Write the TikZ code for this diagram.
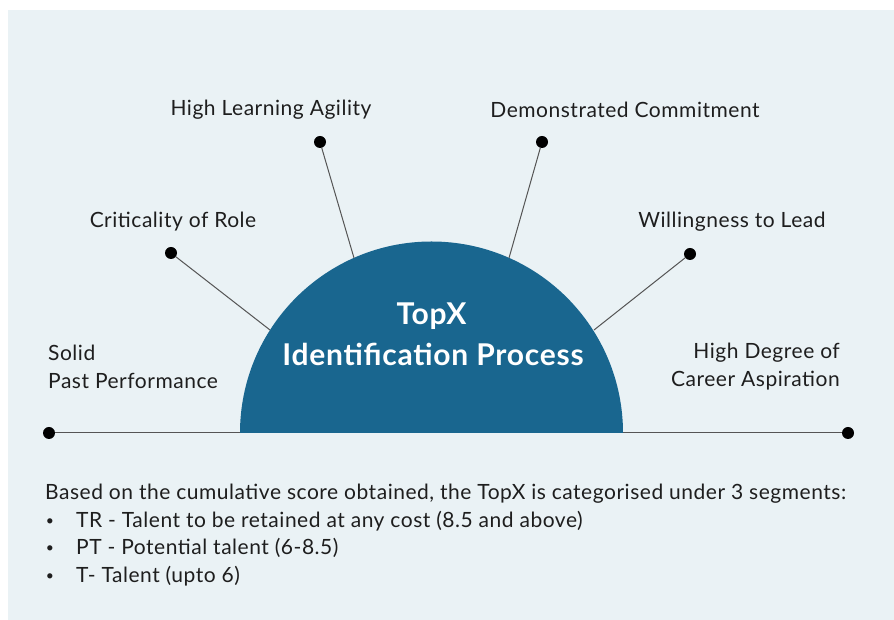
\documentclass[tikz,border=0pt]{standalone}
\usepackage{fontspec}
\setmainfont{Lato}[LetterSpace=2.5]
\definecolor{bgc}{HTML}{EAF2F5}
\definecolor{blu}{HTML}{19668F}
\definecolor{txt}{HTML}{1E1E1E}
\definecolor{spoke}{HTML}{555555}
\begin{document}
\begin{tikzpicture}[x=1pt,y=1pt,
  lbl/.style={inner sep=0pt, text=txt, font=\fontsize{21}{25}\selectfont},
  dotn/.style={circle, fill=black, inner sep=0pt, minimum size=12pt},
  spk/.style={draw=spoke, line width=1pt},
  ttl/.style={inner sep=0pt, text=white, font=\fontsize{30}{35}\selectfont\bfseries}]
\useasboundingbox (0,0) rectangle (894,620);
\fill[bgc] (8,0) rectangle (894,610);
% base line
\node[dotn] (dL) at (49,187) {};
\node[dotn] (dR) at (848,187) {};
\draw[spk] (dL) -- (dR);
% semicircle
\coordinate (c) at (431.5,187);
\fill[blu] (240,187) arc[start angle=180, end angle=0, radius=191.5pt] -- cycle;
\node[ttl] (t1) at (431.5,304) {TopX};
\node[ttl] (t2) at (433,266) {Identification Process};
% spokes
\node[dotn] (d1) at (171,367) {};
\node[dotn] (d2) at (320,478) {};
\node[dotn] (d3) at (542,478) {};
\node[dotn] (d4) at (690,366) {};
\coordinate (e1) at (270,290);
\coordinate (e2) at (354,362);
\coordinate (e3) at (509,362);
\coordinate (e4) at (594,290);
\draw[spk] (d1) -- (e1);
\draw[spk] (d2) -- (e2);
\draw[spk] (d3) -- (e3);
\draw[spk] (d4) -- (e4);
% labels
\node[lbl] (l2) at (271,510) {High Learning Agility};
\node[lbl] (l3) at (625,510) {Demonstrated Commitment};
\node[lbl] (l1) at (173,398) {Criticality of Role};
\node[lbl] (l4) at (732,398) {Willingness to Lead};
\node[lbl, anchor=west] (l5a) at (48,267) {Solid};
\node[lbl, anchor=west] (l5b) at (48,239) {Past Performance};
\node[lbl, anchor=east] (l6a) at (840,267) {High Degree of};
\node[lbl, anchor=east] (l6b) at (840,239) {Career Aspiration};
% bottom text
\node[lbl, anchor=west] (b0) at (45,126) {Based on the cumulative score obtained, the TopX is categorised under 3 segments:};
\node[lbl, font=\fontsize{14}{16}\selectfont] (k1) at (50,98) {•};
\node[lbl, font=\fontsize{14}{16}\selectfont] (k2) at (50,71) {•};
\node[lbl, font=\fontsize{14}{16}\selectfont] (k3) at (50,43) {•};
\node[lbl, anchor=west] (b1) at (76,99) {TR - Talent to be retained at any cost (8.5 and above)};
\node[lbl, anchor=west] (b2) at (76,72) {PT - Potential talent (6-8.5)};
\node[lbl, anchor=west] (b3) at (76,44) {T- Talent (upto 6)};
\end{tikzpicture}
\end{document}
